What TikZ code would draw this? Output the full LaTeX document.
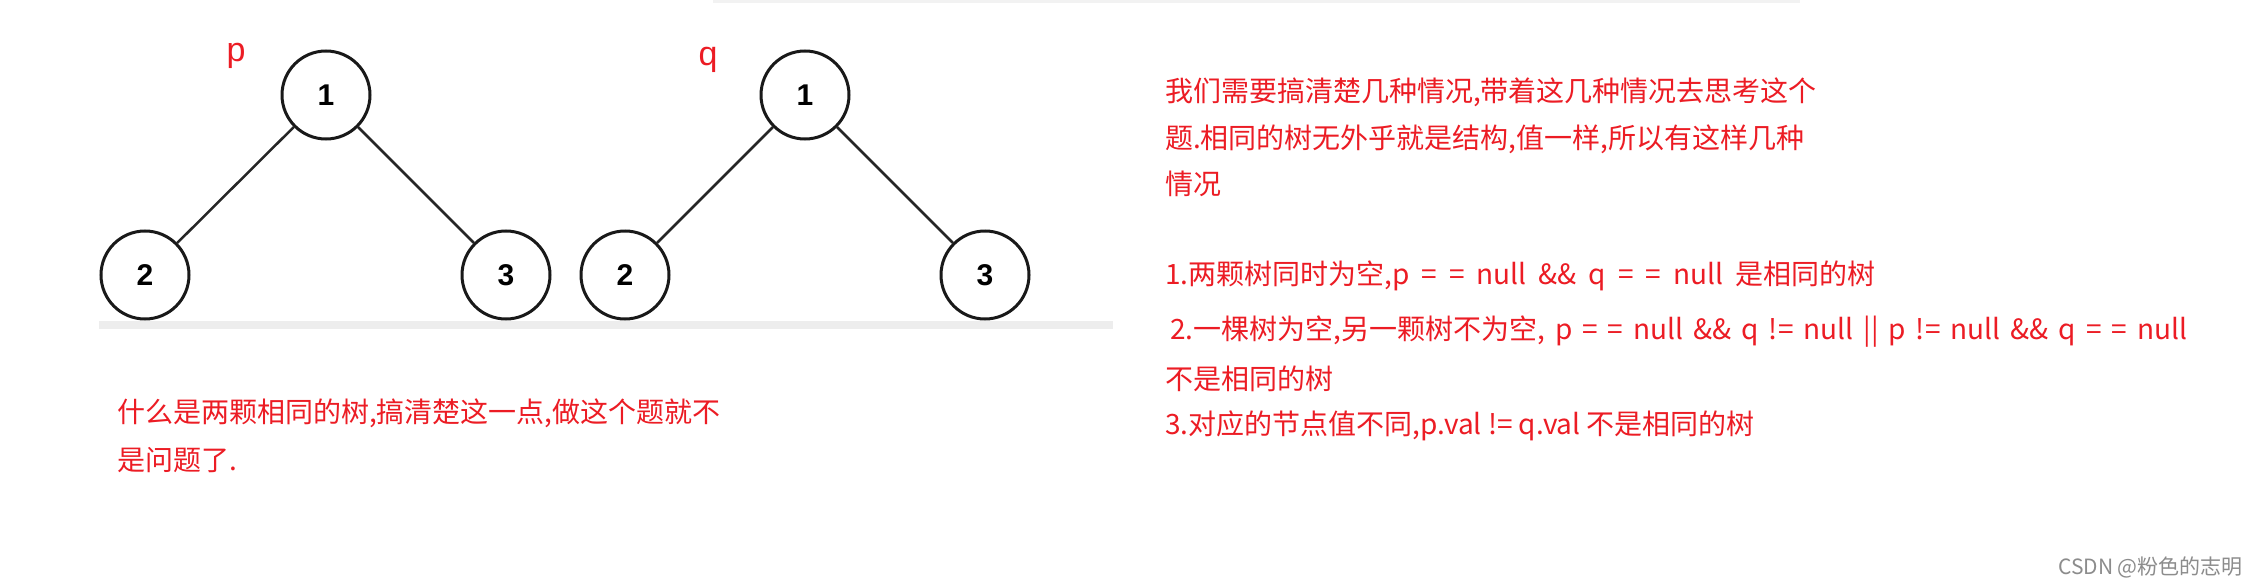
\documentclass[tikz,border=0pt]{standalone}
\usepackage{fontspec}
\setmainfont{Noto Sans CJK SC}
\newfontfamily\digf{Liberation Sans}
\definecolor{txtred}{RGB}{236,28,36}
\begin{document}
\begin{tikzpicture}[x=1pt,y=-1pt,
  tn/.style={circle,draw=black!90,line width=3pt,minimum size=88pt,inner sep=0pt,font=\digf\bfseries\fontsize{30}{30}\selectfont},
  ed/.style={line width=2.5pt,black!85},
  rt/.style={anchor=west,inner sep=0pt,text=txtred,font=\fontsize{28}{28}\selectfont},
  lbl/.style={inner sep=0pt,text=txtred,font=\digf\fontsize{34}{34}\selectfont}]
\useasboundingbox[fill=white] (0,0) rectangle (2260,586);
\fill[black!5] (713,0) rectangle (1800,3);
\fill[black!7] (99,321) rectangle (1113,329);
\node[tn] (p1) at (326,95) {1};
\node[tn] (p2) at (145,275) {2};
\node[tn] (p3) at (506,275) {3};
\node[tn] (q1) at (805,95) {1};
\node[tn] (q2) at (625,275) {2};
\node[tn] (q3) at (985,275) {3};
\draw[ed] (p1) -- (p2); \draw[ed] (p1) -- (p3);
\draw[ed] (q1) -- (q2); \draw[ed] (q1) -- (q3);
\node[lbl] (lp) at (236,56) {p};
\node[lbl] (lq) at (708,60) {q};
\node[rt] (l1) at (117,413) {什么是两颗相同的树,搞清楚这一点,做这个题就不};
\node[rt] (l2) at (117,460) {是问题了.};
\node[rt] (r1) at (1165,92) {我们需要搞清楚几种情况,带着这几种情况去思考这个};
\node[rt] (r2) at (1165,139) {题.相同的树无外乎就是结构,值一样,所以有这样几种};
\node[rt] (r3) at (1165,184) {情况};
\node[rt] (r4) at (1165,276) {\spaceskip=12pt 1.两颗树同时为空,p = = null \&\& q = = null 是相同的树};
\node[rt] (r5) at (1170,332) {\spaceskip=10pt 2.一棵树为空,另一颗树不为空, p = = null \&\& q != null || p != null \&\& q = = null};
\node[rt] (r6) at (1165,379) {不是相同的树};
\node[rt] (r7) at (1165,426) {3.对应的节点值不同,p.val != q.val 不是相同的树};
\node[anchor=east,inner sep=0pt,text=black!45,font=\fontsize{21}{21}\selectfont] (wm) at (2243,567) {CSDN @粉色的志明};
\end{tikzpicture}
\end{document}
